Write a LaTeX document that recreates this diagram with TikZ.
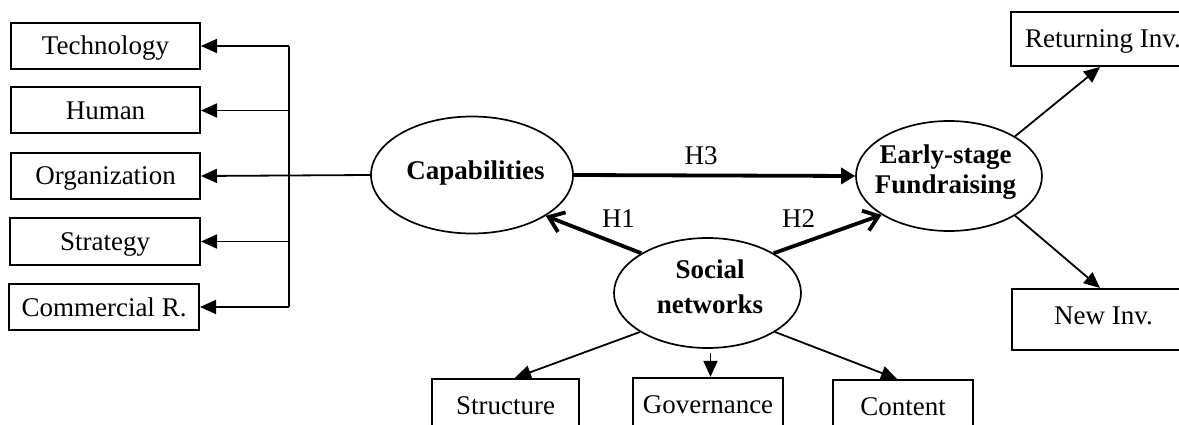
\documentclass[tikz,border=0pt]{standalone}
\usepackage{fontspec}
\setmainfont{Liberation Serif}
\usetikzlibrary{arrows.meta,shapes.geometric}
\begin{document}
\begin{tikzpicture}[x=1pt,y=-1pt,
  every node/.style={font=\fontsize{27}{30}\selectfont},
  box/.style={draw, line width=2pt, rectangle, inner sep=0pt,
    minimum width=189pt, minimum height=46pt, text height=23pt, text depth=5pt},
  oval/.style={draw, line width=1.7pt, ellipse, inner sep=0pt},
  boldtxt/.style={inner sep=0pt, align=center, font=\fontsize{27}{30}\selectfont\bfseries},
  lbl/.style={inner sep=0pt, text height=23pt, text depth=5pt},
  conn/.style={line width=1.8pt, -{Triangle[length=16pt,width=14pt]}},
  hyp/.style={line width=3.8pt, -{Straight Barb[length=14pt,width=21pt]}},
  hypfill/.style={line width=3.8pt, -{Triangle[length=14pt,width=16pt]}}
]
\useasboundingbox (0,0) rectangle (1179,425);

% left boxes
\node[box] (tech) at (105.5,46) {Technology};
\node[box] (human) at (105.5,110.5) {Human};
\node[box] (org) at (105.5,176) {Organization};
\node[box, minimum width=190pt] (strat) at (105,241.5) {Strategy};
\node[box, minimum width=190pt] (comm) at (104,307) {Commercial R.};

% ellipses
\node[oval, minimum width=202pt, minimum height=117pt] (cap) at (472,175) {};
\node[boldtxt, text height=23pt, text depth=5pt] (captext) at (475.5,170) {Capabilities};
\node[oval, minimum width=186pt, minimum height=110pt] (early) at (949,176) {};
\node[boldtxt] (earlytext) at (945.5,172.5) {Early-stage\\Fundraising};
\node[oval, minimum width=187pt, minimum height=110pt] (soc) at (707.5,293) {};
\node[boldtxt, font=\fontsize{27}{35}\selectfont\bfseries] (soctext) at (710,287) {Social\\networks};

% bottom boxes
\node[box, minimum width=147pt, minimum height=52pt, line width=2.3pt] (struct) at (505.5,405) {Structure};
\node[box, minimum width=150pt, minimum height=52pt, line width=2.3pt] (gov) at (708,404) {Governance};
\node[box, minimum width=140pt, minimum height=52pt, line width=2.3pt] (cont) at (903,406) {Content};

% right boxes
\node[box, minimum width=184pt, minimum height=54pt] (ret) at (1103,39) {Returning Inv.};
\node[box, minimum width=183pt, minimum height=61pt, text height=14pt, text depth=5pt] (new) at (1103.5,319.5) {New Inv.};

% labels
\node[lbl] (h3) at (701,156) {H3};
\node[lbl] (h1) at (618.5,219) {H1};
\node[lbl] (h2) at (798.5,219) {H2};

% bus on the left
\coordinate (bustop) at (289,46);
\coordinate (busbot) at (289,307);
\draw[line width=1.8pt] (bustop) -- (busbot);
\draw[conn] (bustop) -- (tech.east);
\draw[conn] (bustop |- human.east) -- (human.east);
\draw[conn] (cap.west) -- (org.east);
\draw[conn] (bustop |- strat.east) -- (strat.east);
\draw[conn] (busbot) -- (comm.east);

% hypotheses
\draw[hypfill] (cap.east) -- (early.west);
\draw[hyp] (soc.149) -- (cap.331);
\draw[hyp] (soc.31) -- (early.210);

% social network dimensions
\draw[conn] (soc.210) -- ([xshift=9.5pt]struct.north);
\draw[conn] ([xshift=3pt,yshift=-4pt]soc.south) -- ([xshift=2.5pt]gov.north);
\draw[conn] (soc.330) -- ([xshift=-6pt]cont.north);

% fundraising outcomes
\draw[conn] (early.31) -- ([xshift=-3pt]ret.south);
\draw[conn] (early.329) -- ([xshift=-3.5pt]new.north);
\end{tikzpicture}
\end{document}
